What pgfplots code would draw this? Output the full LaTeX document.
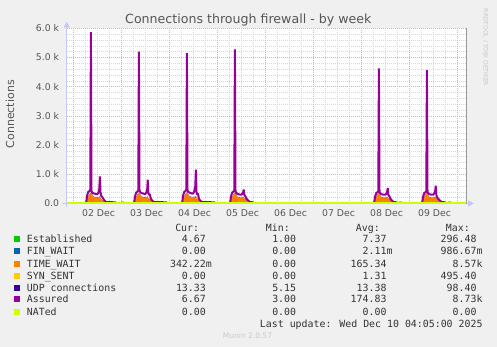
\documentclass[border=0pt]{standalone}
\usepackage{pgfplots}
\pgfplotsset{compat=1.18}
\usepackage{pgfplotstable}
\usepackage{fontspec}
\setmainfont{DejaVu Sans}
\newfontfamily\mono{DejaVu Sans Mono}
\usetikzlibrary{arrows.meta}
\definecolor{bgc}{HTML}{F0F0F0}
\definecolor{estc}{HTML}{00CC00}
\definecolor{finc}{HTML}{0066B3}
\definecolor{twc}{HTML}{FF8000}
\definecolor{sync}{HTML}{FFCC00}
\definecolor{udpc}{HTML}{330099}
\definecolor{assc}{HTML}{990099}
\definecolor{natc}{HTML}{CCFF00}
\definecolor{mgrid}{HTML}{EEA8A8}
\definecolor{ngrid}{HTML}{D8D8D8}
\definecolor{tickc}{HTML}{555555}
\definecolor{legc}{HTML}{333333}
\definecolor{axc}{HTML}{C4C8F4}
\definecolor{faint}{HTML}{C8C8C8}

\pgfplotstableread{
t est fin tw syn udp ass
-3.3 0.005 0 0 0 0.013 0.004
6.0 0.005 0 0 0 0.013 0.004
6.5 0.006 0 0.02 0 0.013 0.06
7.0 0.010 0 0.12 0 0.014 0.30
7.5 0.015 0 0.22 0 0.015 0.40
8.0 0.020 0 0.27 0 0.016 0.42
8.5 0.030 0 0.29 0 0.018 0.48
8.8 0.060 0 0.30 0 0.020 5.87
9.1 0.070 0 0.27 0 0.018 0.42
9.5 0.050 0 0.24 0 0.016 0.37
10.0 0.020 0 0.21 0 0.015 0.35
10.5 0.015 0 0.20 0 0.015 0.34
11.0 0.015 0 0.19 0 0.015 0.33
11.5 0.015 0 0.18 0 0.015 0.32
12.0 0.015 0 0.18 0 0.015 0.32
12.5 0.015 0 0.19 0 0.015 0.36
13.0 0.015 0 0.20 0 0.015 0.50
13.3 0.020 0 0.21 0 0.016 0.93
13.6 0.015 0 0.15 0 0.015 0.38
14.0 0.012 0 0.11 0 0.014 0.26
14.5 0.012 0 0.09 0 0.014 0.22
15.0 0.010 0 0.06 0 0.014 0.16
15.5 0.010 0 0.03 0 0.014 0.11
16.0 0.008 0 0.01 0 0.013 0.07
16.5 0.006 0 0.00 0 0.013 0.05
21.0 0.005 0 0 0 0.013 0.04
21.5 0.005 0 0 0 0.013 0.004
24.0 0.005 0 0 0 0.013 0.004
24.2 0.005 0 0 0 0.013 0.03
25.0 0.005 0 0 0 0.013 0.03
25.2 0.005 0 0 0 0.013 0.004
27.2 0.005 0 0 0 0.013 0.004
27.4 0.005 0 0 0 0.040 0.004
28.0 0.005 0 0 0 0.040 0.004
28.2 0.005 0 0 0 0.013 0.004
30.0 0.005 0 0 0 0.013 0.004
30.5 0.006 0 0.02 0 0.013 0.06
31.0 0.010 0 0.12 0 0.014 0.28
31.5 0.015 0 0.22 0 0.015 0.38
32.0 0.020 0 0.26 0 0.016 0.40
32.5 0.030 0 0.28 0 0.018 0.45
32.8 0.060 0 0.30 0 0.020 5.20
33.1 0.070 0 0.27 0 0.018 0.45
33.5 0.050 0 0.24 0 0.016 0.39
34.0 0.020 0 0.21 0 0.015 0.36
34.5 0.015 0 0.20 0 0.015 0.35
35.0 0.015 0 0.19 0 0.015 0.34
35.5 0.015 0 0.18 0 0.015 0.33
36.0 0.015 0 0.18 0 0.015 0.33
36.5 0.015 0 0.19 0 0.015 0.37
37.0 0.015 0 0.20 0 0.015 0.50
37.2 0.020 0 0.21 0 0.016 0.82
37.5 0.015 0 0.16 0 0.015 0.36
38.0 0.012 0 0.13 0 0.014 0.30
38.3 0.012 0 0.11 0 0.014 0.30
38.7 0.012 0 0.09 0 0.014 0.18
39.0 0.010 0 0.06 0 0.014 0.14
39.5 0.010 0 0.03 0 0.014 0.10
40.0 0.008 0 0.01 0 0.013 0.07
40.5 0.006 0 0.00 0 0.013 0.05
46.5 0.005 0 0 0 0.013 0.04
47.0 0.005 0 0 0 0.013 0.004
54.0 0.005 0 0 0 0.013 0.004
54.5 0.006 0 0.02 0 0.013 0.06
55.0 0.010 0 0.12 0 0.014 0.30
55.5 0.015 0 0.22 0 0.015 0.40
56.0 0.020 0 0.27 0 0.016 0.42
56.5 0.030 0 0.29 0 0.018 0.48
56.8 0.060 0 0.31 0 0.020 5.15
57.1 0.070 0 0.28 0 0.018 0.45
57.5 0.050 0 0.25 0 0.016 0.40
58.0 0.020 0 0.22 0 0.015 0.38
58.5 0.015 0 0.21 0 0.015 0.36
59.0 0.015 0 0.20 0 0.015 0.35
59.5 0.015 0 0.19 0 0.015 0.34
60.0 0.015 0 0.19 0 0.015 0.35
60.5 0.015 0 0.20 0 0.015 0.42
61.0 0.015 0 0.21 0 0.015 0.60
61.3 0.020 0 0.22 0 0.016 1.16
61.6 0.015 0 0.17 0 0.015 0.40
62.0 0.012 0 0.14 0 0.014 0.30
62.3 0.012 0 0.12 0 0.014 0.35
62.7 0.012 0 0.09 0 0.014 0.20
63.0 0.010 0 0.06 0 0.014 0.14
63.5 0.010 0 0.03 0 0.014 0.10
64.0 0.008 0 0.01 0 0.013 0.07
64.5 0.006 0 0.00 0 0.013 0.05
70.5 0.005 0 0 0 0.013 0.04
71.0 0.005 0 0 0 0.013 0.004
78.0 0.005 0 0 0 0.013 0.004
78.5 0.006 0 0.02 0 0.013 0.06
79.0 0.010 0 0.12 0 0.014 0.28
79.5 0.015 0 0.22 0 0.015 0.38
80.0 0.020 0 0.26 0 0.016 0.40
80.5 0.030 0 0.28 0 0.018 0.45
80.8 0.060 0 0.30 0 0.020 5.28
81.1 0.070 0 0.27 0 0.018 0.42
81.5 0.050 0 0.23 0 0.016 0.36
82.0 0.020 0 0.20 0 0.015 0.33
82.5 0.015 0 0.19 0 0.015 0.32
83.0 0.015 0 0.18 0 0.015 0.31
83.5 0.015 0 0.17 0 0.015 0.30
84.0 0.015 0 0.17 0 0.015 0.30
84.5 0.015 0 0.18 0 0.015 0.33
85.0 0.015 0 0.19 0 0.015 0.40
85.2 0.020 0 0.20 0 0.016 0.48
85.5 0.015 0 0.15 0 0.015 0.30
86.0 0.012 0 0.12 0 0.014 0.25
86.5 0.012 0 0.09 0 0.014 0.18
87.0 0.010 0 0.06 0 0.014 0.13
87.5 0.010 0 0.03 0 0.014 0.10
88.0 0.008 0 0.01 0 0.013 0.07
88.5 0.006 0 0.00 0 0.013 0.05
89.8 0.005 0 0 0 0.013 0.04
90.2 0.005 0 0 0 0.013 0.004
93.8 0.005 0 0 0 0.013 0.004
94.0 0.005 0 0 0 0.045 0.004
94.8 0.005 0 0 0 0.045 0.004
95.0 0.005 0 0 0 0.013 0.004
150.0 0.005 0 0 0 0.013 0.004
150.5 0.006 0 0.02 0 0.013 0.06
151.0 0.010 0 0.12 0 0.014 0.26
151.5 0.015 0 0.22 0 0.015 0.36
152.0 0.020 0 0.26 0 0.016 0.38
152.5 0.030 0 0.28 0 0.018 0.42
152.8 0.060 0 0.29 0 0.020 4.63
153.1 0.060 0 0.26 0 0.018 0.40
153.5 0.040 0 0.22 0 0.016 0.34
154.0 0.020 0 0.19 0 0.015 0.32
154.5 0.015 0 0.18 0 0.015 0.31
155.0 0.015 0 0.17 0 0.015 0.30
155.5 0.015 0 0.17 0 0.015 0.30
156.0 0.015 0 0.17 0 0.015 0.30
156.5 0.015 0 0.18 0 0.015 0.33
157.0 0.015 0 0.19 0 0.015 0.42
157.2 0.020 0 0.20 0 0.016 0.53
157.5 0.015 0 0.15 0 0.015 0.30
158.0 0.012 0 0.12 0 0.014 0.25
158.5 0.012 0 0.09 0 0.014 0.18
159.0 0.010 0 0.06 0 0.014 0.12
159.5 0.010 0 0.03 0 0.014 0.09
160.0 0.008 0 0.01 0 0.013 0.06
160.5 0.006 0 0.00 0 0.013 0.05
161.6 0.005 0 0 0 0.013 0.04
162.0 0.005 0 0 0 0.013 0.004
163.0 0.005 0 0 0 0.013 0.004
163.2 0.005 0 0 0 0.013 0.03
164.0 0.005 0 0 0 0.013 0.03
164.2 0.005 0 0 0 0.013 0.004
174.0 0.005 0 0 0 0.013 0.004
174.5 0.006 0 0.02 0 0.013 0.06
175.0 0.010 0 0.12 0 0.014 0.26
175.5 0.015 0 0.22 0 0.015 0.36
176.0 0.020 0 0.26 0 0.016 0.38
176.5 0.030 0 0.28 0 0.018 0.42
176.8 0.060 0 0.29 0 0.020 4.57
177.1 0.060 0 0.26 0 0.018 0.40
177.5 0.040 0 0.22 0 0.016 0.34
178.0 0.020 0 0.19 0 0.015 0.32
178.5 0.015 0 0.18 0 0.015 0.31
179.0 0.015 0 0.17 0 0.015 0.30
179.5 0.015 0 0.17 0 0.015 0.30
180.0 0.015 0 0.17 0 0.015 0.31
180.5 0.015 0 0.18 0 0.015 0.35
181.0 0.015 0 0.19 0 0.015 0.45
181.2 0.020 0 0.20 0 0.016 0.61
181.5 0.015 0 0.15 0 0.015 0.30
182.0 0.012 0 0.12 0 0.014 0.20
182.5 0.012 0 0.09 0 0.014 0.16
183.0 0.010 0 0.06 0 0.014 0.12
183.5 0.010 0 0.03 0 0.014 0.09
184.0 0.008 0 0.01 0 0.013 0.06
184.5 0.006 0 0.00 0 0.013 0.05
185.8 0.005 0 0 0 0.013 0.04
186.2 0.005 0 0 0 0.013 0.004
187.6 0.005 0 0 0 0.013 0.004
187.8 0.005 0 0 0 0.013 0.03
188.6 0.005 0 0 0 0.013 0.03
188.8 0.005 0 0 0 0.013 0.004
196.7 0.005 0 0 0 0.013 0.004
}\conn

\pgfplotsset{
  rrd/.style={
    at={(66.7pt,143.5pt)}, anchor=south west, scale only axis,
    width=400pt, height=175.2pt,
    xmin=-3.3, xmax=196.7, ymin=0, ymax=6,
  }
}

\begin{document}
\begin{tikzpicture}[x=1pt,y=1pt]
\fill[bgc] (0,0) rectangle (497,347);

\begin{axis}[rrd,
  axis background/.style={fill=white},
  axis line style={draw=none},
  tick style={draw=none},
  stack plots=y,
  xtick={12.65,36.65,60.65,84.65,108.65,132.65,156.65,180.65},
  xticklabels={02 Dec,03 Dec,04 Dec,05 Dec,06 Dec,07 Dec,08 Dec,09 Dec},
  xmajorgrids=false,
  minor xtick={6,12,18,30,36,42,54,60,66,78,84,90,102,108,114,126,132,138,150,156,162,174,180,186},
  xminorgrids=true,
  extra x ticks={0,24,48,72,96,120,144,168,192},
  extra x tick labels={},
  extra x tick style={grid=major},
  ytick={0,1,2,3,4,5,6},
  yticklabels={0.0,1.0 k,2.0 k,3.0 k,4.0 k,5.0 k,6.0 k},
  minor ytick={0.2,0.4,0.6,0.8,1.2,1.4,1.6,1.8,2.2,2.4,2.6,2.8,3.2,3.4,3.6,3.8,4.2,4.4,4.6,4.8,5.2,5.4,5.6,5.8},
  ymajorgrids=true, yminorgrids=true,
  major grid style={mgrid, line width=0.6pt, dash pattern=on 1pt off 1pt},
  minor grid style={ngrid, line width=0.6pt, dash pattern=on 1pt off 1pt},
  xticklabel style={font=\fontsize{9.3}{10}\selectfont, text=tickc, anchor=north, inner sep=0pt, yshift=-6.4pt},
  yticklabel style={font=\fontsize{9.3}{10}\selectfont, text=tickc, anchor=east, inner sep=0pt, xshift=-7.4pt},
]
\addplot[draw=none, fill=estc] table[x=t,y=est] {\conn} \closedcycle;
\addplot[draw=none, fill=finc] table[x=t,y=fin] {\conn} \closedcycle;
\addplot[draw=none, fill=twc] table[x=t,y=tw] {\conn} \closedcycle;
\addplot[draw=none, fill=sync] table[x=t,y=syn] {\conn} \closedcycle;
\addplot[draw=none, fill=udpc] table[x=t,y=udp] {\conn} \closedcycle;
\end{axis}

\begin{axis}[rrd, hide axis]
\addplot[assc, line width=2pt, line join=miter, miter limit=3] table[x=t,y=ass] {\conn};
\addplot[natc, line width=2pt] coordinates {(-3.3,0) (196.7,0)};
\end{axis}

% axes decorations
\draw[axc, line width=1pt, -{Triangle[length=6pt,width=6pt]}] (66.7,140.3) -- (66.7,325.3);
\draw[axc, line width=1pt, -{Triangle[length=6pt,width=6pt]}] (466.7,143.5) -- (474,143.5);
\draw[axc, line width=1pt] (63,143.5) -- (66.7,143.5);
\draw[gray!80, line width=1.2pt] (466.7,143.5) -- (466.7,318.7);

% title and labels
\node[anchor=base, text=tickc, font=\fontsize{12.6}{14}\selectfont, inner sep=0pt] at (248.3,323.7) {Connections through firewall - by week};
\node[rotate=90, text=tickc, font=\fontsize{11}{12}\selectfont, inner sep=0pt] at (10,232.8) {Connections};
\node[rotate=-90, text=faint, font=\fontsize{6}{7}\selectfont, inner sep=0pt] at (485.5,299.5) {RRDTOOL / TOBI OETIKER};
\node[text=faint, font=\fontsize{7.5}{8}\selectfont, inner sep=0pt] at (247.5,11) {Munin 2.0.57};

% legend
\begin{scope}[every node/.style={inner sep=0pt, text=legc, font=\mono\fontsize{9.9}{11}\selectfont}]
\node[anchor=base east] at (199.3,115.1) {Cur:};
\node[anchor=base east] at (290,115.1) {Min:};
\node[anchor=base east] at (380,115.1) {Avg:};
\node[anchor=base east] at (470,115.1) {Max:};

\fill[estc] (14,104.7) rectangle (20,110.7);
\node[anchor=base west] at (26.7,104.1) {Established};
\node[anchor=base east] at (206,104.1) {4.67};
\node[anchor=base east] at (296.3,104.1) {1.00};
\node[anchor=base east] at (386.7,104.1) {7.37};
\node[anchor=base east] at (476.7,104.1) {296.48};

\fill[finc] (14,92.7) rectangle (20,98.7);
\node[anchor=base west] at (26.7,92.1) {FIN\_WAIT};
\node[anchor=base east] at (206,92.1) {0.00};
\node[anchor=base east] at (296.3,92.1) {0.00};
\node[anchor=base east] at (386.7,92.1) {2.11\rlap{m}};
\node[anchor=base east] at (476.7,92.1) {986.67\rlap{m}};

\fill[twc] (14,80.3) rectangle (20,86.3);
\node[anchor=base west] at (26.7,79.7) {TIME\_WAIT};
\node[anchor=base east] at (206,79.7) {342.22\rlap{m}};
\node[anchor=base east] at (296.3,79.7) {0.00};
\node[anchor=base east] at (386.7,79.7) {165.34};
\node[anchor=base east] at (476.7,79.7) {8.57\rlap{k}};

\fill[sync] (14,68.3) rectangle (20,74.3);
\node[anchor=base west] at (26.7,67.7) {SYN\_SENT};
\node[anchor=base east] at (206,67.7) {0.00};
\node[anchor=base east] at (296.3,67.7) {0.00};
\node[anchor=base east] at (386.7,67.7) {1.31};
\node[anchor=base east] at (476.7,67.7) {495.40};

\fill[udpc] (14,56.3) rectangle (20,62.3);
\node[anchor=base west] at (26.7,55.7) {UDP connections};
\node[anchor=base east] at (206,55.7) {13.33};
\node[anchor=base east] at (296.3,55.7) {5.15};
\node[anchor=base east] at (386.7,55.7) {13.38};
\node[anchor=base east] at (476.7,55.7) {98.40};

\fill[assc] (14,44.7) rectangle (20,50.7);
\node[anchor=base west] at (26.7,44.1) {Assured};
\node[anchor=base east] at (206,44.1) {6.67};
\node[anchor=base east] at (296.3,44.1) {3.00};
\node[anchor=base east] at (386.7,44.1) {174.83};
\node[anchor=base east] at (476.7,44.1) {8.73\rlap{k}};

\fill[natc] (14,32.3) rectangle (20,38.3);
\node[anchor=base west] at (26.7,31.7) {NATed};
\node[anchor=base east] at (206,31.7) {0.00};
\node[anchor=base east] at (296.3,31.7) {0.00};
\node[anchor=base east] at (386.7,31.7) {0.00};
\node[anchor=base east] at (476.7,31.7) {0.00};

\node[anchor=base east] at (482.7,19.7) {Last update: Wed Dec 10 04:05:00 2025};
\end{scope}
\end{tikzpicture}
\end{document}
